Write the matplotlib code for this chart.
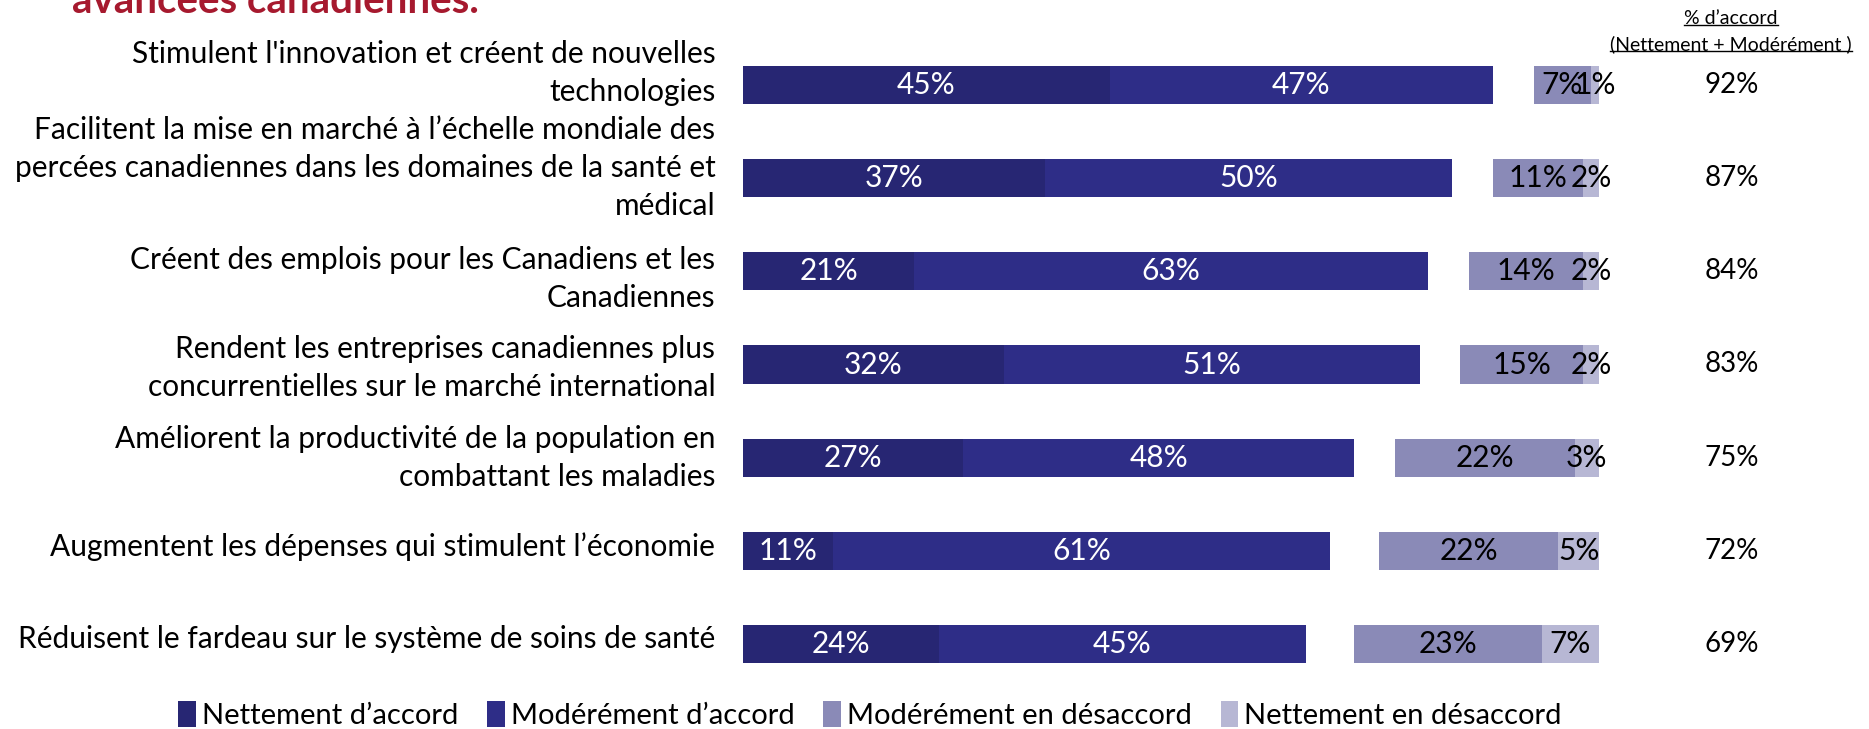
import matplotlib
matplotlib.use("Agg")
import matplotlib.pyplot as plt
from matplotlib.patches import Patch
from matplotlib.lines import Line2D

plt.rcParams['font.family'] = ['Lato', 'DejaVu Sans']

categories = [
    "Stimulent l'innovation et créent de nouvelles\ntechnologies",
    "Facilitent la mise en marché à l’échelle mondiale des\npercées canadiennes dans les domaines de la santé et\nmédical",
    "Créent des emplois pour les Canadiens et les\nCanadiennes",
    "Rendent les entreprises canadiennes plus\nconcurrentielles sur le marché international",
    "Améliorent la productivité de la population en\ncombattant les maladies",
    "Augmentent les dépenses qui stimulent l’économie",
    "Réduisent le fardeau sur le système de soins de santé",
]
nett_accord = [45, 37, 21, 32, 27, 11, 24]
mod_accord = [47, 50, 63, 51, 48, 61, 45]
mod_desaccord = [7, 11, 14, 15, 22, 22, 23]
nett_desaccord = [1, 2, 2, 2, 3, 5, 7]
total_accord = [92, 87, 84, 83, 75, 72, 69]

series_names = ["Nettement d’accord", "Modérément d’accord",
                "Modérément en désaccord", "Nettement en désaccord"]
colors = ["#272673", "#2E2D87", "#8A8AB7", "#B7B7D4"]

# small vertical nudges of the row labels (as laid out in the slide)
label_shift = [-0.13, -0.11, 0.08, 0.04, 0.0, -0.04, -0.05]

W, H = 1869, 729
fig = plt.figure(figsize=(W / 100, H / 100), dpi=100)

# axes placed in pixel terms: x 0..105 -> 743..1599 px, rows centred 85..644 px
top_px, bot_px = 38.4, 690.6
ax = fig.add_axes([743 / W, 1 - bot_px / H, 856 / W, (bot_px - top_px) / H])
ax.set_xlim(0, 105)
ax.set_ylim(len(categories) - 0.5, -0.5)
ax.axis('off')

y = list(range(len(categories)))
bh = 0.41
end = 105

ax.barh(y, nett_accord, height=bh, color=colors[0])
ax.barh(y, mod_accord, left=nett_accord, height=bh, color=colors[1])
des_left = [end - a - b for a, b in zip(mod_desaccord, nett_desaccord)]
ax.barh(y, mod_desaccord, left=des_left, height=bh, color=colors[2])
left4 = [l + a for l, a in zip(des_left, mod_desaccord)]
ax.barh(y, nett_desaccord, left=left4, height=bh, color=colors[3])

fs_bar = 21.5
for i in y:
    ax.text(nett_accord[i] / 2, i, f"{nett_accord[i]}%", ha='center', va='center',
            color='white', fontsize=fs_bar)
    ax.text(nett_accord[i] + mod_accord[i] / 2, i, f"{mod_accord[i]}%", ha='center',
            va='center', color='white', fontsize=fs_bar)
    ax.text(des_left[i] + mod_desaccord[i] / 2, i, f"{mod_desaccord[i]}%", ha='center',
            va='center', color='black', fontsize=fs_bar)
    ax.text(left4[i] + nett_desaccord[i] / 2, i, f"{nett_desaccord[i]}%", ha='center',
            va='center', color='black', fontsize=fs_bar)
    ax.text(121.3, i, f"{total_accord[i]}%", ha='center', va='center',
            color='black', fontsize=20, clip_on=False)
    ax.text(-3.4, i + label_shift[i], categories[i], ha='right', va='center',
            fontsize=21.5, linespacing=1.42, clip_on=False)

# title, cut at the top edge as in the slide
fig.text(72 / W, 1 - 13 / H, "avancées canadiennes.", color="#A6192E",
         fontsize=29, fontweight='bold', va='baseline', ha='left')

# header of the total column, underlined
hdr = []
hdr.append(fig.text(1731 / W, 1 - 18 / H, "% d’accord", ha='center', va='center', fontsize=14))
hdr.append(fig.text(1731 / W, 1 - 44 / H, "(Nettement + Modérément )", ha='center',
                    va='center', fontsize=14))
fig.canvas.draw()
r = fig.canvas.get_renderer()
for t in hdr:
    bb = t.get_window_extent(r)
    yl = (bb.y0 + 2) / H
    fig.add_artist(Line2D([bb.x0 / W, bb.x1 / W], [yl, yl], color='black', lw=1))

handles = [Patch(facecolor=c, label=n) for c, n in zip(colors, series_names)]
fig.legend(handles=handles, loc='center', bbox_to_anchor=(870 / W, 1 - 715 / H),
           ncol=4, frameon=False, fontsize=21, handlelength=0.6, handleheight=1.0,
           handletextpad=0.2, columnspacing=1.0)

fig.savefig("out.png", dpi=100)
